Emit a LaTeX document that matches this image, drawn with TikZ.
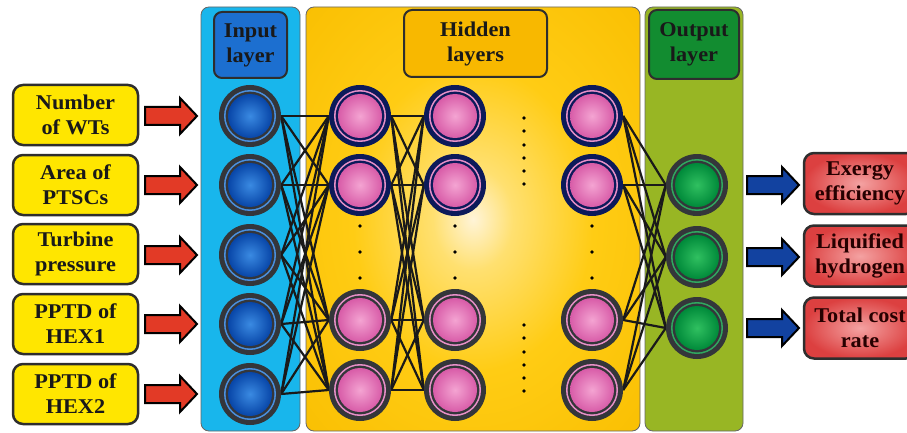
\documentclass[tikz,border=0pt]{standalone}
\usepackage{fontspec}
\setmainfont{Liberation Serif}[FakeStretch=1.06]
\usetikzlibrary{calc}
\pgfdeclarelayer{bg}
\pgfdeclarelayer{edges}
\pgfsetlayers{bg,edges,main}
\definecolor{yel}{HTML}{FFE600}
\definecolor{boxline}{HTML}{2E2E2E}
\definecolor{redin}{HTML}{F4A2A2}
\definecolor{redout}{HTML}{DC4040}
\definecolor{arrred}{HTML}{E23A26}
\definecolor{arrblue}{HTML}{1242A0}
\definecolor{cyanA}{HTML}{18B6EC}
\definecolor{cyanB}{HTML}{7AD6F8}
\definecolor{hidA}{HTML}{FFF4D8}
\definecolor{hidB}{HTML}{FFE070}
\definecolor{hidC}{HTML}{FFCC14}
\definecolor{hidD}{HTML}{F9BE00}
\definecolor{hidE}{HTML}{F2AC00}
\definecolor{oliveA}{HTML}{98B624}
\definecolor{oliveB}{HTML}{CFE072}
\definecolor{hdrblue}{HTML}{1C6FD0}
\definecolor{hdrorange}{HTML}{F8B800}
\definecolor{hdrgreen}{HTML}{128C30}
\definecolor{ringdark}{HTML}{34363A}
\definecolor{navy}{HTML}{0C1A5A}
\definecolor{blueIn}{HTML}{3A8AE2}
\definecolor{blueOut}{HTML}{0846A8}
\definecolor{blueRing}{HTML}{4A90E0}
\definecolor{pinkIn}{HTML}{F4A4D2}
\definecolor{pinkOut}{HTML}{D85CA8}
\definecolor{pinkRing}{HTML}{E890C8}
\definecolor{greenIn}{HTML}{30C060}
\definecolor{greenOut}{HTML}{008A3A}
\definecolor{greenRing}{HTML}{30A860}
\definecolor{linec}{HTML}{1A1A1A}
\pgfdeclareradialshading{hidshade}{\pgfpoint{0bp}{0bp}}{color(0bp)=(hidA); color(6bp)=(hidB); color(18bp)=(hidC); color(38bp)=(hidD); color(50bp)=(hidE)}
\begin{document}
\begin{tikzpicture}[x=1pt,y=-1pt,
  lbl/.style={font=\fontsize{21}{25}\selectfont\bfseries, align=center, text=black!90},
  inbox/.style={lbl, draw=boxline, line width=2.5pt, rounded corners=10pt, fill=yel, minimum width=125pt, minimum height=60pt, inner sep=0pt},
  outbox/.style={lbl, draw=boxline, line width=2.5pt, rounded corners=10pt, inner color=redin, outer color=redout, minimum width=112pt, minimum height=61pt, inner sep=0pt, text=black!85!red},
  hdr/.style={lbl, draw=boxline, line width=2pt, rounded corners=8pt, inner sep=0pt},
  neuron/.style n args={4}{circle, minimum size=62pt, inner sep=0pt, fill=#1,
    path picture={
      \fill[#2] (path picture bounding box.center) circle (26pt);
      \fill[#1] (path picture bounding box.center) circle (24.4pt);
      \shade[inner color=#3, outer color=#4] (path picture bounding box.center) circle (22pt);
    }},
  inneuron/.style={neuron={ringdark}{blueRing}{blueIn}{blueOut}},
  hidtop/.style={neuron={navy}{pinkRing}{pinkIn}{pinkOut}},
  hidbot/.style={neuron={ringdark}{pinkRing}{pinkIn}{pinkOut}},
  outneuron/.style={neuron={ringdark}{greenRing}{greenIn}{greenOut}},
  link/.style={line width=2.2pt, draw=linec},
  dotmark/.style={circle, fill=black, inner sep=0pt, minimum size=3.6pt},
  panel/.style={draw=black!60, line width=0.8pt, rounded corners=8pt},
  barrow/.pic={\draw[line width=2pt, draw=black, fill=#1, line join=miter]
      (0,-9) -- (35,-9) -- (35,-18) -- (52,0) -- (35,18) -- (35,9) -- (0,9) -- cycle;}
]
\useasboundingbox (0,0) rectangle (907,433);

% panels
\begin{pgfonlayer}{bg}
\draw[panel, left color=cyanA, middle color=cyanB, right color=cyanA] (201,7) rectangle (300,431);
\draw[panel, shading=hidshade] (306,7) rectangle (640,431);
\draw[panel, left color=oliveA, middle color=oliveB, right color=oliveA] (645,7) rectangle (743,431);
\end{pgfonlayer}

% headers
\node[hdr, fill=hdrblue, minimum width=73pt, minimum height=66pt] (hin) at (250.5,45) {Input\\layer};
\node[hdr, fill=hdrorange, minimum width=143pt, minimum height=67pt] (hhid) at (475.5,43.5) {Hidden\\layers};
\node[hdr, fill=hdrgreen, minimum width=90pt, minimum height=69pt] (hout) at (694,44.5) {Output\\layer};

% input boxes
\node[inbox] (b1) at (75.5,115) {Number\\of WTs};
\node[inbox] (b2) at (75.5,185) {Area of\\PTSCs};
\node[inbox] (b3) at (75.5,254) {Turbine\\pressure};
\node[inbox] (b4) at (75.5,324) {PPTD of\\HEX1};
\node[inbox] (b5) at (75.5,394) {PPTD of\\HEX2};

% output boxes
\node[outbox] (o1) at (860,183.5) {Exergy\\efficiency};
\node[outbox] (o2) at (860,256) {Liquified\\hydrogen};
\node[outbox] (o3) at (860,328) {Total cost\\rate};

% input neurons
\foreach \i/\y in {1/116,2/185,3/255,4/324,5/394}{
  \node[inneuron] (i\i) at (250,\y) {};
  \pic at (145,\y) {barrow=arrred};
}
% hidden neurons
\foreach \c/\x in {a/360,b/455,c/592}{
  \node[hidtop] (\c1) at (\x,116) {};
  \node[hidtop] (\c2) at (\x,185) {};
  \node[hidbot] (\c3) at (\x,320) {};
  \node[hidbot] (\c4) at (\x,390) {};
  \foreach \k/\yy in {1/226,2/252,3/278}{
    \node[dotmark] (d\c\k) at (\x,\yy) {};
  }
}
% output neurons
\foreach \i/\y in {1/185,2/257,3/328}{
  \node[outneuron] (n\i) at (697,\y) {};
  \pic at (747,\y) {barrow=arrblue};
}
% dots between hidden columns
\foreach \k/\yy in {1/118,2/131,3/145,4/158,5/171,6/184,7/325,8/338,9/352,10/365,11/378,12/391}{
  \node[dotmark] (m\k) at (524,\yy) {};
}

% connections
\begin{pgfonlayer}{edges}
\foreach \i in {1,...,5}{\foreach \j in {1,...,4}{\draw[link] (i\i.east) -- (a\j.west);}}
\foreach \i in {1,...,4}{\foreach \j in {1,...,4}{\draw[link] (a\i.east) -- (b\j.west);}}
\foreach \i in {1,...,4}{\foreach \j in {1,...,3}{\draw[link] (c\i.east) -- (n\j.west);}}
\end{pgfonlayer}
\end{tikzpicture}
\end{document}
